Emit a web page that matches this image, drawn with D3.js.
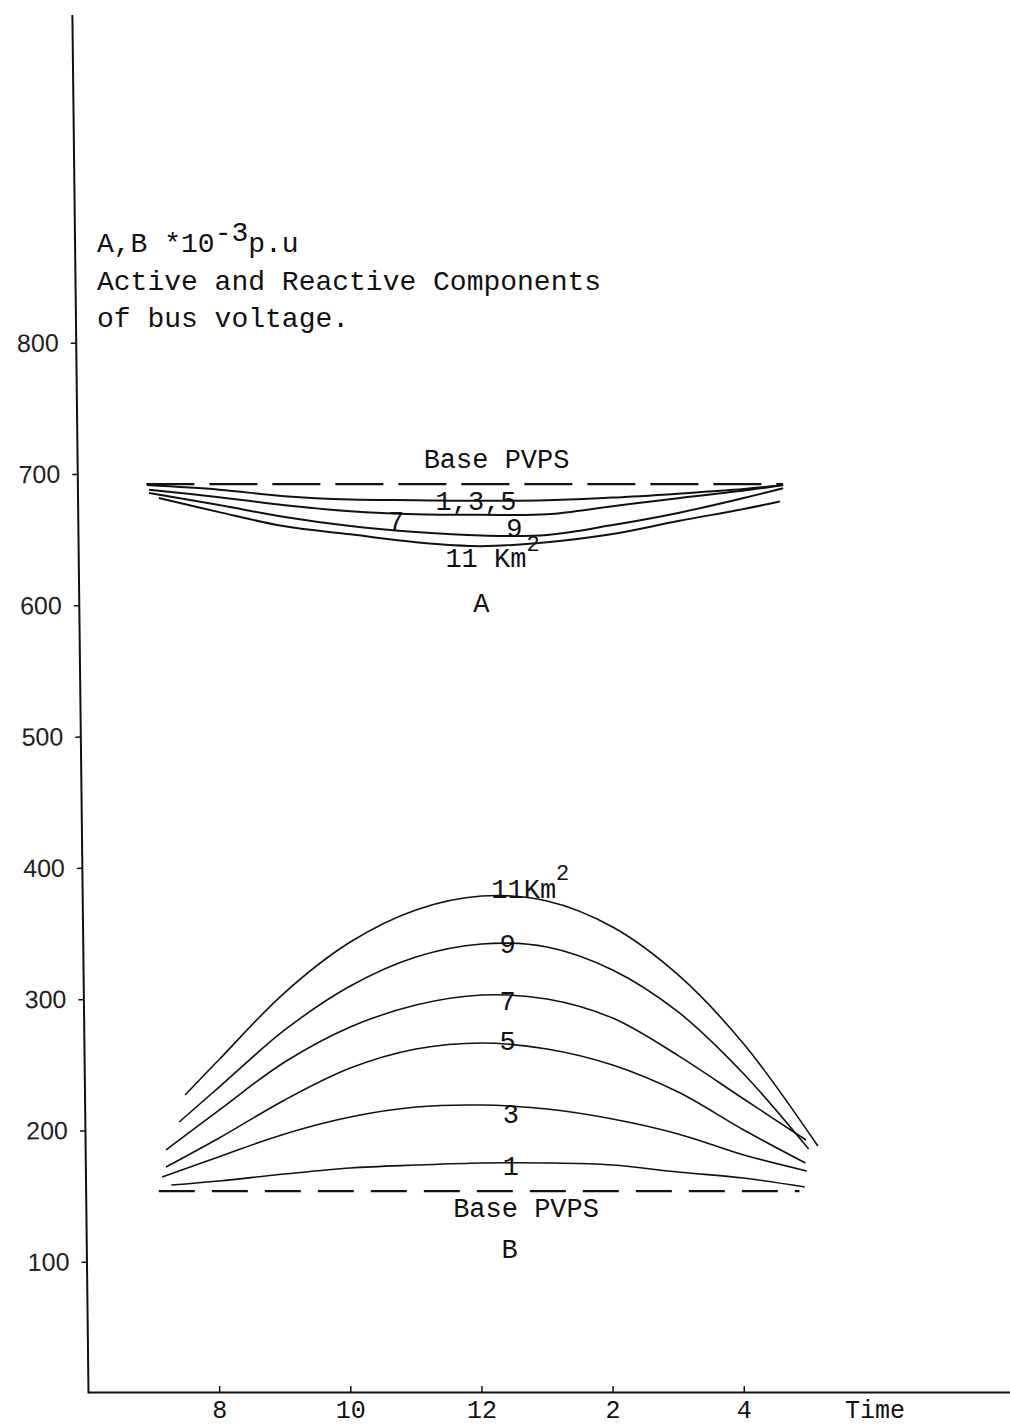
<!DOCTYPE html>
<html>
<head>
<meta charset="utf-8">
<script src="https://cdnjs.cloudflare.com/ajax/libs/d3/7.8.5/d3.min.js"></script>
<style>
body { margin: 0; background: #fff; }
.typed { font-family: "Liberation Mono", "Courier New", monospace; fill: #111; }
</style>
</head>
<body>
<div id="chart"></div>
<script>
// time on a 24h clock, voltages in 10^-3 p.u.
// A = active component, curves for 1,3,5 / 7 / 9 / 11 km2
var hoursA135 = [6.9, 8, 9, 10, 11, 12, 13, 14, 15, 16, 16.6];
var voltA135 = [691.5, 688, 683, 680.5, 680, 679.5, 680, 682, 685, 688.5, 691.5];
var hoursA7 = [6.93, 8, 9, 10, 11, 12, 13, 14, 15, 16, 16.6];
var voltA7 = [688, 682.3, 676.2, 671.6, 669.3, 668.9, 669.3, 675.4, 681.5, 687.3, 691.5];
var hoursA9 = [6.93, 8, 9, 10, 11, 12, 13, 14, 15, 16, 16.6];
var voltA9 = [685.5, 676.3, 667.2, 660.3, 655.7, 653.1, 653.5, 661.1, 670.3, 681.7, 689.1];
var hoursA11 = [7.08, 8, 9, 10, 11, 12, 13, 14, 15, 16, 16.55];
var voltA11 = [681.6, 670.9, 660.1, 654, 648, 645, 648, 654.2, 664.1, 673.3, 679];
var baseHoursA = [6.89, 16.6];
var baseVoltA = [692.3, 692.3];

// B = reactive component, curves for 1 .. 11 km2
var hoursB1 = [7.27, 8, 9, 10, 11, 12, 13, 14, 15, 16, 16.93];
var voltB1 = [158.4, 161.5, 166.8, 171.4, 173.6, 175.2, 175.2, 173.6, 168.3, 163.7, 156.9];
var hoursB3 = [7.13, 8, 9, 10, 11, 12, 13, 14, 15, 16, 16.96];
var voltB3 = [164.5, 180, 197.3, 210.2, 217.8, 219.3, 216.3, 208.7, 197.3, 181.3, 169.1];
var hoursB5 = [7.19, 8, 9, 10, 11, 12, 13, 14, 15, 16, 16.94];
var voltB5 = [172.1, 194.2, 223.2, 247.5, 262, 266.6, 262, 249.8, 229.2, 200.3, 175.2];
var hoursB7 = [7.19, 8, 9, 10, 11, 12, 13, 14, 15, 16, 16.95];
var voltB7 = [185.1, 215.5, 252.1, 278.8, 295.5, 303.1, 300.1, 285.6, 257, 223.9, 192.7];
var hoursB9 = [7.39, 8, 9, 10, 11, 12, 13, 14, 15, 16, 16.99];
var voltB9 = [206.4, 233, 276.5, 310, 332.1, 342, 339.7, 322.2, 290.2, 243, 185.8];
var hoursB11 = [7.48, 8, 9, 10, 11, 12, 13, 14, 15, 16, 17.13];
var voltB11 = [227, 254, 305, 343.5, 367.9, 378.5, 374.7, 354.9, 318.4, 265.8, 188.1];
var baseHoursB = [7.08, 16.85];
var baseVoltB = [153.8, 153.8];

var yTicks = [100, 200, 300, 400, 500, 600, 700, 800];
var xTicks = [8, 10, 12, 14, 16];
var titleLines = ["Active and Reactive Components", "of bus voltage."];

function drawChart() {
    var width = 1010,
        height = 1427;
    var x = d3.scaleLinear()
        .domain([6, 20.06])
        .range([88, 1010]);
    var y = d3.scaleLinear()
        .domain([0, 1050])
        .range([1393, 14.4]);

    var svg = d3.select('#chart')
        .append('svg')
        .attr('width', width)
        .attr('height', height)
        .style('background', '#fff');

    // y axis, slightly tilted like the hand drawn one
    var yAxis = d3.axisLeft(y)
        .tickValues(yTicks)
        .tickSizeInner(5)
        .tickSizeOuter(0)
        .tickPadding(12);
    var gy = svg.append('g')
        .attr('class', 'axis')
        .attr('transform', 'translate(88,0) rotate(-0.67,0,1393)')
        .call(yAxis);
    gy.select('.domain').attr('stroke', '#111').attr('stroke-width', 2);
    gy.selectAll('.tick line').attr('stroke', '#111').attr('stroke-width', 1.5);
    gy.selectAll('.tick text')
        .attr('font-family', '"Liberation Sans", Arial, sans-serif')
        .attr('font-size', 25)
        .attr('fill', '#222');

    // x axis, ticks pointing up
    var xAxis = d3.axisBottom(x)
        .tickValues(xTicks)
        .tickFormat(function(h) { return h > 12 ? h - 12 : h; })
        .tickSizeInner(-6)
        .tickSizeOuter(0)
        .tickPadding(8);
    var gx = svg.append('g')
        .attr('class', 'axis')
        .attr('transform', 'translate(0,1392)')
        .call(xAxis);
    gx.select('.domain').attr('stroke', '#111').attr('stroke-width', 2);
    gx.selectAll('.tick line').attr('stroke', '#111').attr('stroke-width', 1.5);
    gx.selectAll('.tick text')
        .attr('class', 'typed')
        .attr('font-size', 25);
    svg.append('text')
        .attr('class', 'typed')
        .attr('x', 845)
        .attr('y', 1418)
        .attr('font-size', 25)
        .text('Time');

    var line = d3.line()
        .x(function(d) { return x(d[0]); })
        .y(function(d) { return y(d[1]); })
        .curve(d3.curveCatmullRom.alpha(0.5));

    var curvesA = [[hoursA135, voltA135], [hoursA7, voltA7], [hoursA9, voltA9], [hoursA11, voltA11]];
    var curvesB = [[hoursB1, voltB1], [hoursB3, voltB3], [hoursB5, voltB5],
        [hoursB7, voltB7], [hoursB9, voltB9], [hoursB11, voltB11]];

    svg.selectAll('.curveA')
        .data(curvesA)
        .enter()
        .append('path')
        .attr('class', 'curveA')
        .attr('d', function(c) { return line(d3.zip(c[0], c[1])); })
        .attr('fill', 'none')
        .attr('stroke', '#111')
        .attr('stroke-width', 2);
    svg.selectAll('.curveB')
        .data(curvesB)
        .enter()
        .append('path')
        .attr('class', 'curveB')
        .attr('d', function(c) { return line(d3.zip(c[0], c[1])); })
        .attr('fill', 'none')
        .attr('stroke', '#111')
        .attr('stroke-width', 1.6);

    // base PVPS lines
    svg.append('path')
        .attr('d', line(d3.zip(baseHoursA, baseVoltA)))
        .attr('fill', 'none')
        .attr('stroke', '#111')
        .attr('stroke-width', 2.2)
        .attr('stroke-dasharray', '48,15');
    svg.append('path')
        .attr('d', line(d3.zip(baseHoursB, baseVoltB)))
        .attr('fill', 'none')
        .attr('stroke', '#111')
        .attr('stroke-width', 2.2)
        .attr('stroke-dasharray', '36,17');

    // heading
    var head = svg.append('text')
        .attr('class', 'typed')
        .attr('x', 97)
        .attr('y', 252)
        .attr('font-size', 28);
    head.append('tspan').text('A,B *10');
    head.append('tspan').attr('dy', -11).text('-3');
    head.append('tspan').attr('dy', 11).text('p.u');
    svg.selectAll('.title')
        .data(titleLines)
        .enter()
        .append('text')
        .attr('class', 'typed title')
        .attr('x', 97)
        .attr('y', function(d, i) { return 290 + i * 37; })
        .attr('font-size', 28)
        .text(function(d) { return d; });

    // curve labels
    var labels = [
        { t: 'Base PVPS', h: 12.23, py: 468, a: 'middle' },
        { t: '1,3,5', h: 11.3, py: 510, a: 'start' },
        { t: '7', h: 10.7, py: 530, a: 'middle' },
        { t: '9', h: 12.5, py: 537, a: 'middle' },
        { t: 'A', h: 12.0, py: 612, a: 'middle' },
        { t: '9', h: 12.4, py: 953, a: 'middle' },
        { t: '7', h: 12.4, py: 1010, a: 'middle' },
        { t: '5', h: 12.4, py: 1050, a: 'middle' },
        { t: '3', h: 12.45, py: 1123, a: 'middle' },
        { t: '1', h: 12.45, py: 1175, a: 'middle' },
        { t: 'Base PVPS', h: 12.68, py: 1217, a: 'middle' },
        { t: 'B', h: 12.43, py: 1258, a: 'middle' }
    ];
    svg.selectAll('.lbl')
        .data(labels)
        .enter()
        .append('text')
        .attr('class', 'typed lbl')
        .attr('x', function(d) { return x(d.h); })
        .attr('y', function(d) { return d.py; })
        .attr('font-size', 27)
        .style('text-anchor', function(d) { return d.a; })
        .text(function(d) { return d.t; });

    var kmA = svg.append('text')
        .attr('class', 'typed')
        .attr('x', x(11.45))
        .attr('y', 567)
        .attr('font-size', 27);
    kmA.append('tspan').text('11 Km');
    kmA.append('tspan').attr('dy', -16).attr('font-size', 22).text('2');
    var kmB = svg.append('text')
        .attr('class', 'typed')
        .attr('x', x(12.15))
        .attr('y', 898)
        .attr('font-size', 27);
    kmB.append('tspan').text('11Km');
    kmB.append('tspan').attr('dy', -18).attr('font-size', 22).text('2');
}

drawChart();
</script>
</body>
</html>
